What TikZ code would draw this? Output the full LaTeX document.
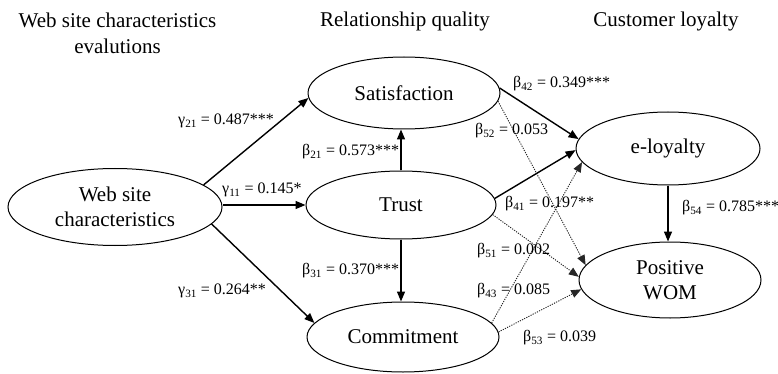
\documentclass[tikz,border=0pt]{standalone}
\usepackage{fontspec}
\setmainfont{Liberation Serif}
\usetikzlibrary{arrows.meta,shapes.geometric}
\begin{document}
\begin{tikzpicture}[x=1pt,y=-1pt,
  latent/.style={ellipse,draw,line width=1pt,inner sep=0pt,font=\fontsize{21}{25}\selectfont,align=center},
  head/.style={font=\fontsize{21}{26}\selectfont,align=center,inner sep=0pt},
  coef/.style={font=\fontsize{16}{18}\selectfont,inner sep=0pt,anchor=west},
  sig/.style={line width=1.4pt,-{Triangle[length=10pt,width=8pt]}},
  nsig/.style={line width=0.9pt,black!85,dash pattern=on 1.2pt off 1.2pt,-{Triangle[length=10pt,width=8pt]}}]
\useasboundingbox (0,0) rectangle (778,374);
% headers
\node[head] (h1) at (117.5,33) {Web site characteristics\\evalutions};
\node[head] (h2) at (405,21) {Relationship quality};
\node[head] (h3) at (666,21) {Customer loyalty};
% latent variables
\node[latent,minimum width=214pt,minimum height=77pt] (ws) at (115,207) {Web site\\characteristics};
\node[latent,minimum width=192pt,minimum height=72pt] (sat) at (404,93) {Satisfaction};
\node[latent,minimum width=190pt,minimum height=68pt] (trust) at (401,205) {Trust};
\node[latent,minimum width=192pt,minimum height=70pt] (comm) at (403,337) {Commitment};
\node[latent,minimum width=184pt,minimum height=73pt] (eloy) at (668,148.5) {e-loyalty};
\node[latent,minimum width=182pt,minimum height=76pt] (wom) at (670,280) {Positive\\WOM};
% paths
\draw[sig] (ws.14) -- (sat.183);
\draw[sig] (ws.east |- trust) -- (trust.west);
\draw[sig] (ws.-10) -- (comm.171);
\draw[sig] (trust.north) -- (trust.north |- sat.south);
\draw[sig] (trust.south) -- (trust.south |- comm.north);
\draw[sig] (sat.3) -- (eloy.174);
\draw[nsig] (sat.-5) -- (wom.170);
\draw[sig] (trust.4) -- (eloy.181);
\draw[nsig] (trust.-6) -- (wom.178);
\draw[nsig] (comm.9) -- (eloy.189);
\draw[nsig] (comm.3) -- (wom.186);
\draw[sig] (eloy.south) -- (eloy.south |- wom.north);
% coefficients
\node[coef] (g21) at (178,121) {γ\textsubscript{21} = 0.487***};
\node[coef] (g11) at (222,190) {γ\textsubscript{11} = 0.145*};
\node[coef] (g31) at (178,291) {γ\textsubscript{31} = 0.264**};
\node[coef] (b21) at (302,152) {β\textsubscript{21} = 0.573***};
\node[coef] (b31) at (302,271) {β\textsubscript{31} = 0.370***};
\node[coef] (b42) at (513,84) {β\textsubscript{42} = 0.349***};
\node[coef] (b52) at (475,131) {β\textsubscript{52} = 0.053};
\node[coef] (b41) at (505,204) {β\textsubscript{41} = 0.197**};
\node[coef] (b51) at (477,251) {β\textsubscript{51} = 0.002};
\node[coef] (b43) at (477,291) {β\textsubscript{43} = 0.085};
\node[coef] (b53) at (523,338) {β\textsubscript{53} = 0.039};
\node[coef] (b54) at (682,208) {β\textsubscript{54} = 0.785***};
\end{tikzpicture}
\end{document}
